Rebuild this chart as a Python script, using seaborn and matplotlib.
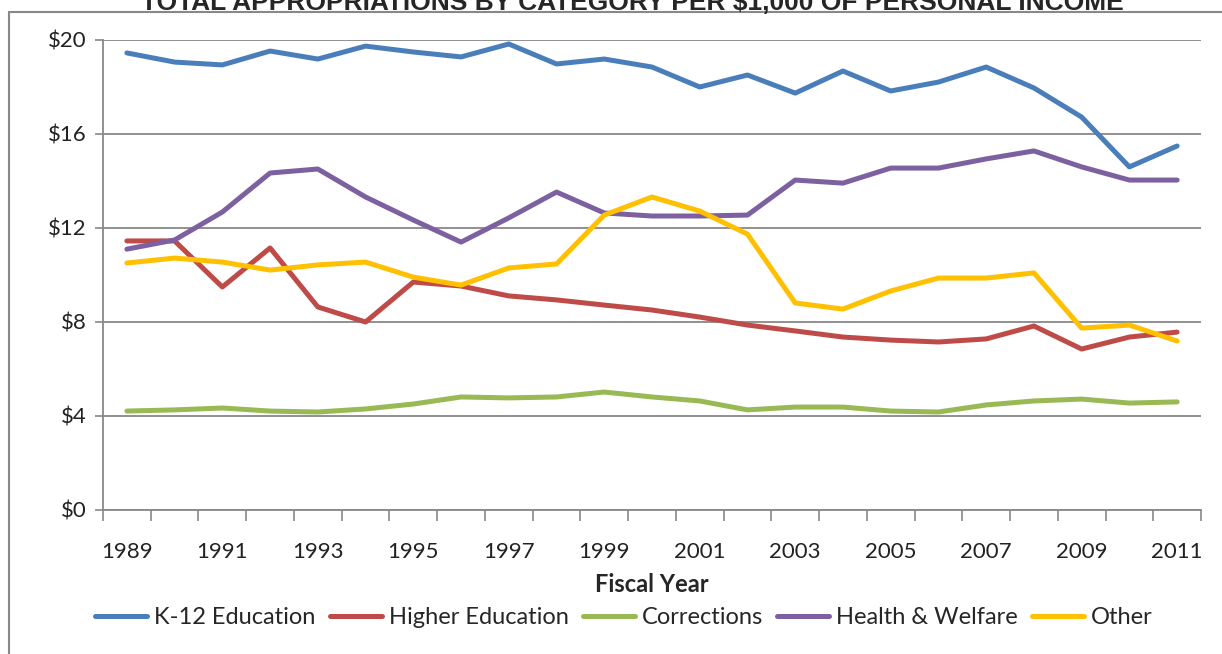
import pandas as pd
import matplotlib.pyplot as plt
import seaborn as sns
from matplotlib.patches import Rectangle
from matplotlib.ticker import FixedLocator

years = list(range(1989, 2012))

k12 = [19.45, 19.06, 18.94, 19.53, 19.19, 19.74, 19.49, 19.28, 19.83, 18.98, 19.19, 18.85,
       18.00, 18.51, 17.74, 18.68, 17.83, 18.21, 18.85, 17.96, 16.72, 14.60, 15.49]
higher_ed = [11.45, 11.45, 9.49, 11.15, 8.64, 8.00, 9.70, 9.53, 9.11, 8.94, 8.72, 8.51,
             8.21, 7.87, 7.62, 7.36, 7.23, 7.15, 7.28, 7.83, 6.85, 7.36, 7.57]
corrections = [4.21, 4.26, 4.34, 4.21, 4.17, 4.30, 4.51, 4.81, 4.77, 4.81, 5.02, 4.81,
               4.64, 4.26, 4.38, 4.38, 4.21, 4.17, 4.47, 4.64, 4.72, 4.55, 4.60]
health = [11.10, 11.49, 12.68, 14.34, 14.51, 13.32, 12.34, 11.40, 12.43, 13.53, 12.64, 12.51,
          12.51, 12.55, 14.04, 13.91, 14.55, 14.55, 14.94, 15.28, 14.60, 14.04, 14.04]
other = [10.51, 10.72, 10.55, 10.21, 10.43, 10.55, 9.91, 9.57, 10.30, 10.47, 12.55, 13.32,
         12.72, 11.74, 8.81, 8.55, 9.32, 9.87, 9.87, 10.09, 7.74, 7.87, 7.19]

series = {
    "K-12 Education": k12,
    "Higher Education": higher_ed,
    "Corrections": corrections,
    "Health & Welfare": health,
    "Other": other,
}
colors = ["#4A7EBB", "#BE4B48", "#98B954", "#7D60A0", "#FFC000"]

rows = []
for name, vals in series.items():
    for i, (yr, v) in enumerate(zip(years, vals)):
        rows.append({"pos": i, "year": yr, "category": name, "value": v})
df = pd.DataFrame(rows)

sns.set_style("white")
plt.rcParams["font.family"] = ["Lato", "DejaVu Sans"]

fig = plt.figure(figsize=(12.22, 6.54), dpi=100)
ax = fig.add_axes([103 / 1222, 1 - 510 / 654, 1098 / 1222, 470 / 654])

sns.lineplot(data=df, x="pos", y="value", hue="category", palette=colors,
             linewidth=3.6, ax=ax, legend=False)

ax.set_xlim(-0.5, len(years) - 0.5)
ax.set_ylim(0, 20)
ax.set_yticks([0, 4, 8, 12, 16, 20])
ax.set_yticklabels(["$%d" % v for v in [0, 4, 8, 12, 16, 20]], fontsize=16, color="#222222")
ax.yaxis.grid(True, color="#888888", linewidth=1.3)
ax.tick_params(axis="y", length=6, width=1.2, color="#888888", pad=6, left=True)

# category axis: labels on every other year, tick marks between categories
ax.set_xticks(range(0, len(years), 2))
ax.set_xticklabels([str(y) for y in years[::2]], fontsize=16, color="#222222")
ax.tick_params(axis="x", which="major", length=0, pad=23)
ax.xaxis.set_minor_locator(FixedLocator([i - 0.5 for i in range(len(years) + 1)]))
ax.tick_params(axis="x", which="minor", length=8, width=1.2, color="#888888", bottom=True)

for s in ["top", "right"]:
    ax.spines[s].set_visible(False)
for s in ["left", "bottom"]:
    ax.spines[s].set_color("#888888")
    ax.spines[s].set_linewidth(1.3)

ax.set_xlabel("Fiscal Year", fontsize=17, fontweight="bold", labelpad=8)
ax.set_ylabel("")

handles = [plt.Line2D([], [], color=c, linewidth=3.6) for c in colors]
fig.legend(handles, list(series.keys()), loc="center", bbox_to_anchor=(624 / 1222, 1 - 618 / 654),
           ncol=5, frameon=False, fontsize=17, handlelength=2.2, handletextpad=0.3,
           columnspacing=0.6)

fig.text(632 / 1222, 1 - 10 / 654, "TOTAL APPROPRIATIONS BY CATEGORY PER $1,000 OF PERSONAL INCOME",
         ha="center", va="baseline", fontsize=19, fontweight="bold",
         family=["Liberation Sans", "DejaVu Sans"])

fig.patches.append(Rectangle((9 / 1222, -0.2), 1.2, 1.2 - 12 / 654, transform=fig.transFigure,
                             fill=False, edgecolor="#888888", linewidth=1.5))

fig.savefig("out.png", dpi=100)
